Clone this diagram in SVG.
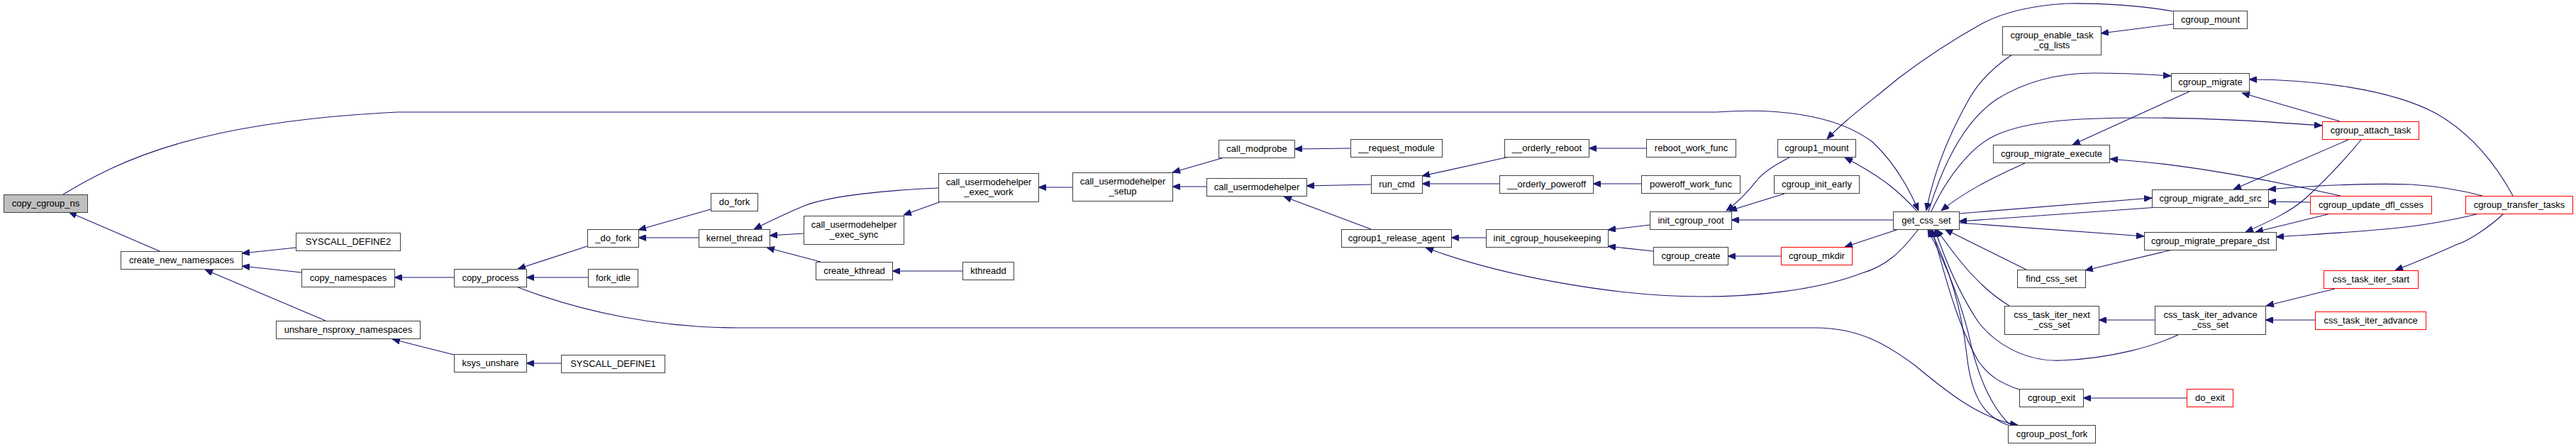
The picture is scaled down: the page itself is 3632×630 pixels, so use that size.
<svg xmlns="http://www.w3.org/2000/svg" width="3632" height="630" viewBox="0 0 3632 630">
<style>
.n rect{fill:#fff;stroke:#404040;stroke-width:1}
.n.r rect{stroke:#ff0000}
.n.g rect{fill:#bfbfbf}
.n text{font-family:"Liberation Sans",Arial,sans-serif;font-size:13px;text-anchor:middle;fill:#000}
#edges path{fill:none;stroke:#191970;stroke-width:1.1;marker-end:url(#a)}
</style>
<defs>
<marker id="a" markerUnits="userSpaceOnUse" markerWidth="12" markerHeight="9" viewBox="0 0 12 9" refX="11" refY="4.5" orient="auto"><path d="M0,0 L11,4.5 L0,9 z" fill="#191970" stroke="#191970" stroke-width="0.8"/></marker>
</defs>
<rect width="3632" height="630" fill="#fff"/>
<g id="edges">
<path d="M89,274 C170,225 280,172 560,158 L2420,158 C2530,150 2600,170 2640,200 C2670,228 2690,262 2705,297"/>
<path d="M225,354 L97,299"/>
<path d="M417,349 L341,357"/>
<path d="M425,384 L341,375"/>
<path d="M459,452 L289,380"/>
<path d="M640,391 L556,391"/>
<path d="M640,500 L553,478"/>
<path d="M828,347 L730,379"/>
<path d="M829,391 L742,391"/>
<path d="M791,512 L742,512"/>
<path d="M1002,295 L900,324"/>
<path d="M985,335 L900,335"/>
<path d="M1323,265 C1250,268 1170,276 1134,290 C1110,300 1085,312 1063,323"/>
<path d="M1133,329 L1085,332"/>
<path d="M1157,369 L1081,349"/>
<path d="M1357,382 L1258,382"/>
<path d="M1327,284 L1274,303"/>
<path d="M1512,264 L1464,264"/>
<path d="M1726,222 L1653,243"/>
<path d="M1701,263 L1653,263"/>
<path d="M1904,209 L1825,210"/>
<path d="M1933,260 L1842,262"/>
<path d="M1933,323 L1810,277"/>
<path d="M2128,221 L2005,248"/>
<path d="M2114,259 L2005,259"/>
<path d="M2321,209 L2240,209"/>
<path d="M2314,259 L2246,259"/>
<path d="M2095,335 L2046,335"/>
<path d="M2326,317 L2267,324"/>
<path d="M2331,354 L2267,347"/>
<path d="M2705,323 C2680,355 2660,375 2625,385 C2560,410 2470,418 2400,418 C2280,418 2120,390 2010,349"/>
<path d="M2669,310 L2441,310"/>
<path d="M2523,222 C2495,236 2485,245 2478,253 C2465,270 2450,285 2434,297"/>
<path d="M2516,273 L2438,297"/>
<path d="M2703,298 C2680,272 2655,250 2601,222"/>
<path d="M2511,361 L2436,361"/>
<path d="M2677,323 L2601,348"/>
<path d="M3064,16 C3020,8 2960,4 2914,5 C2860,8 2820,20 2795,33 C2750,58 2710,85 2677,110 C2635,145 2600,170 2576,196"/>
<path d="M3064,34 L2962,47"/>
<path d="M2837,77 C2810,95 2790,115 2776,140 C2745,195 2725,250 2716,297"/>
<path d="M2719,298 C2740,230 2770,170 2815,140 C2860,112 2910,103 2953,103 C2990,103 3030,105 3061,107"/>
<path d="M2723,298 C2745,250 2780,205 2815,190 C2860,170 2930,166 3020,166 C3120,166 3200,172 3274,177"/>
<path d="M3087,129 L2922,204"/>
<path d="M2855,230 C2810,250 2770,270 2737,297"/>
<path d="M3300,276 C3220,258 3100,235 3020,228 L2975,224"/>
<path d="M2762,301 L3034,279"/>
<path d="M3043,292 L2762,312"/>
<path d="M2762,314 L3023,333"/>
<path d="M3299,171 L3161,131"/>
<path d="M3543,276 C3510,215 3470,180 3435,160 C3370,125 3260,112 3171,112"/>
<path d="M3311,197 L3149,267"/>
<path d="M3329,197 C3300,232 3270,262 3250,280 C3230,298 3200,312 3166,327"/>
<path d="M3500,276 C3470,268 3430,262 3400,260 C3340,258 3260,262 3198,267"/>
<path d="M3257,285 L3198,284"/>
<path d="M3286,301 L3180,327"/>
<path d="M3496,301 C3450,312 3400,320 3362,323 C3310,328 3250,331 3209,334"/>
<path d="M3530,301 C3510,320 3480,340 3463,345 C3430,360 3400,372 3377,381"/>
<path d="M3063,352 L2940,381"/>
<path d="M2857,380 L2742,323"/>
<path d="M2833,431 C2790,405 2760,365 2730,323"/>
<path d="M3038,451 L2959,451"/>
<path d="M3264,451 L3194,451"/>
<path d="M3292,407 L3195,431"/>
<path d="M3073,471 C3040,487 2980,505 2906,508 C2850,510 2810,480 2790,455 C2760,410 2742,365 2728,323"/>
<path d="M2847,549 C2820,540 2805,530 2790,510 C2760,460 2740,380 2724,323"/>
<path d="M2831,599 C2790,585 2778,545 2773,500 C2765,430 2745,370 2721,323"/>
<path d="M2833,598 C2805,570 2790,530 2780,490 C2765,420 2740,365 2718,323"/>
<path d="M3083,561 L2937,561"/>
<path d="M728,404 C820,440 930,462 1040,462 L2560,462 C2620,462 2660,485 2700,515 C2740,548 2790,590 2845,599"/>
</g>
<g id="n1" class="n g"><rect x="5.5" y="274.5" width="118" height="25"/><text x="64.5" y="291">copy_cgroup_ns</text></g>
<g id="n2" class="n"><rect x="170.5" y="354.5" width="171" height="25"/><text x="256" y="371">create_new_namespaces</text></g>
<g id="n3" class="n"><rect x="417.5" y="328.5" width="147" height="25"/><text x="491" y="345">SYSCALL_DEFINE2</text></g>
<g id="n4" class="n"><rect x="425.5" y="379.5" width="131" height="25"/><text x="491" y="396">copy_namespaces</text></g>
<g id="n5" class="n"><rect x="389.5" y="452.5" width="203" height="25"/><text x="491" y="469">unshare_nsproxy_namespaces</text></g>
<g id="n6" class="n"><rect x="640.5" y="379.5" width="102" height="25"/><text x="691.5" y="396">copy_process</text></g>
<g id="n7" class="n"><rect x="828.5" y="323.5" width="72" height="25"/><text x="864.5" y="340">_do_fork</text></g>
<g id="n8" class="n"><rect x="1002.5" y="272.5" width="66" height="25"/><text x="1035.5" y="289">do_fork</text></g>
<g id="n9" class="n"><rect x="829.5" y="379.5" width="70" height="25"/><text x="864.5" y="396">fork_idle</text></g>
<g id="n10" class="n"><rect x="985.5" y="323.5" width="100" height="25"/><text x="1035.5" y="340">kernel_thread</text></g>
<g id="n11" class="n"><rect x="1133.5" y="304.5" width="141" height="40"/><text x="1204" y="321">call_usermodehelper</text><text x="1204" y="335">_exec_sync</text></g>
<g id="n12" class="n"><rect x="1150.5" y="369.5" width="108" height="25"/><text x="1204.5" y="386">create_kthread</text></g>
<g id="n13" class="n"><rect x="640.5" y="499.5" width="102" height="25"/><text x="691.5" y="516">ksys_unshare</text></g>
<g id="n14" class="n"><rect x="791.5" y="500.5" width="146" height="25"/><text x="864.5" y="517">SYSCALL_DEFINE1</text></g>
<g id="n15" class="n"><rect x="1357.5" y="369.5" width="72" height="25"/><text x="1393.5" y="386">kthreadd</text></g>
<g id="n16" class="n"><rect x="1323.5" y="244.5" width="141" height="40"/><text x="1394" y="261">call_usermodehelper</text><text x="1394" y="275">_exec_work</text></g>
<g id="n17" class="n"><rect x="1512.5" y="243.5" width="141" height="40"/><text x="1583" y="260">call_usermodehelper</text><text x="1583" y="274">_setup</text></g>
<g id="n18" class="n"><rect x="1718.5" y="197.5" width="107" height="25"/><text x="1772" y="214">call_modprobe</text></g>
<g id="n19" class="n"><rect x="1701.5" y="251.5" width="141" height="25"/><text x="1772" y="268">call_usermodehelper</text></g>
<g id="n20" class="n"><rect x="1904.5" y="196.5" width="129" height="25"/><text x="1969" y="213">__request_module</text></g>
<g id="n21" class="n"><rect x="1933.5" y="247.5" width="72" height="25"/><text x="1969.5" y="264">run_cmd</text></g>
<g id="n22" class="n"><rect x="1891.5" y="323.5" width="155" height="25"/><text x="1969" y="340">cgroup1_release_agent</text></g>
<g id="n23" class="n"><rect x="2095.5" y="323.5" width="172" height="25"/><text x="2181.5" y="340">init_cgroup_housekeeping</text></g>
<g id="n24" class="n"><rect x="2121.5" y="196.5" width="119" height="25"/><text x="2181" y="213">__orderly_reboot</text></g>
<g id="n25" class="n"><rect x="2114.5" y="247.5" width="132" height="25"/><text x="2180.5" y="264">__orderly_poweroff</text></g>
<g id="n26" class="n"><rect x="2321.5" y="196.5" width="126" height="25"/><text x="2384.5" y="213">reboot_work_func</text></g>
<g id="n27" class="n"><rect x="2314.5" y="247.5" width="139" height="25"/><text x="2384" y="264">poweroff_work_func</text></g>
<g id="n28" class="n"><rect x="2326.5" y="298.5" width="115" height="25"/><text x="2384" y="315">init_cgroup_root</text></g>
<g id="n29" class="n"><rect x="2331.5" y="348.5" width="105" height="25"/><text x="2384" y="365">cgroup_create</text></g>
<g id="n30" class="n r"><rect x="2511.5" y="348.5" width="100" height="25"/><text x="2561.5" y="365">cgroup_mkdir</text></g>
<g id="n31" class="n"><rect x="2506.5" y="196.5" width="110" height="25"/><text x="2561.5" y="213">cgroup1_mount</text></g>
<g id="n32" class="n"><rect x="2501.5" y="247.5" width="120" height="25"/><text x="2561.5" y="264">cgroup_init_early</text></g>
<g id="n33" class="n"><rect x="2669.5" y="298.5" width="93" height="25"/><text x="2716" y="315">get_css_set</text></g>
<g id="n34" class="n"><rect x="2823.5" y="37.5" width="139" height="40"/><text x="2893" y="54">cgroup_enable_task</text><text x="2893" y="68">_cg_lists</text></g>
<g id="n35" class="n"><rect x="3064.5" y="15.5" width="104" height="25"/><text x="3116.5" y="32">cgroup_mount</text></g>
<g id="n36" class="n"><rect x="3061.5" y="103.5" width="110" height="25"/><text x="3116.5" y="120">cgroup_migrate</text></g>
<g id="n37" class="n"><rect x="2810.5" y="204.5" width="164" height="25"/><text x="2892.5" y="221">cgroup_migrate_execute</text></g>
<g id="n38" class="n r"><rect x="3274.5" y="171.5" width="136" height="25"/><text x="3342.5" y="188">cgroup_attach_task</text></g>
<g id="n39" class="n"><rect x="3034.5" y="267.5" width="164" height="25"/><text x="3116.5" y="284">cgroup_migrate_add_src</text></g>
<g id="n40" class="n r"><rect x="3257.5" y="276.5" width="171" height="25"/><text x="3343" y="293">cgroup_update_dfl_csses</text></g>
<g id="n41" class="n r"><rect x="3476.5" y="276.5" width="151" height="25"/><text x="3552" y="293">cgroup_transfer_tasks</text></g>
<g id="n42" class="n"><rect x="2844.5" y="380.5" width="96" height="25"/><text x="2892.5" y="397">find_css_set</text></g>
<g id="n43" class="n"><rect x="3023.5" y="327.5" width="186" height="25"/><text x="3116.5" y="344">cgroup_migrate_prepare_dst</text></g>
<g id="n44" class="n"><rect x="2826.5" y="431.5" width="133" height="40"/><text x="2893" y="448">css_task_iter_next</text><text x="2893" y="462">_css_set</text></g>
<g id="n45" class="n"><rect x="3038.5" y="431.5" width="156" height="40"/><text x="3116.5" y="448">css_task_iter_advance</text><text x="3116.5" y="462">_css_set</text></g>
<g id="n46" class="n r"><rect x="3276.5" y="381.5" width="133" height="25"/><text x="3343" y="398">css_task_iter_start</text></g>
<g id="n47" class="n r"><rect x="3264.5" y="439.5" width="156" height="25"/><text x="3342.5" y="456">css_task_iter_advance</text></g>
<g id="n48" class="n"><rect x="2847.5" y="548.5" width="90" height="25"/><text x="2892.5" y="565">cgroup_exit</text></g>
<g id="n49" class="n r"><rect x="3083.5" y="548.5" width="65" height="25"/><text x="3116" y="565">do_exit</text></g>
<g id="n50" class="n"><rect x="2831.5" y="599.5" width="123" height="25"/><text x="2893" y="616">cgroup_post_fork</text></g>
</svg>
